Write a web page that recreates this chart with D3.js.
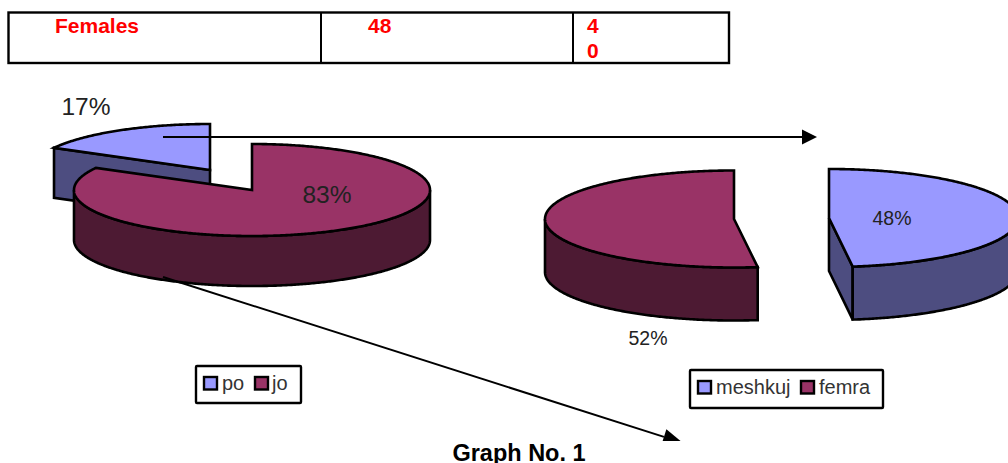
<!DOCTYPE html>
<html><head><meta charset="utf-8">
<script src="https://cdnjs.cloudflare.com/ajax/libs/d3/7.9.0/d3.min.js"></script>
<style>html,body{margin:0;padding:0;background:#fff}svg{display:block}text{font-family:"Liberation Sans",Arial,sans-serif}</style>
</head><body><svg id="c" width="1008" height="463"></svg>
<script>
// data
const leftCategories = ["po", "jo"];
const leftValues = [17, 83];
const rightCategories = ["meshkuj", "femra"];
const rightValues = [48, 52];
const tableCells = [["Females"], ["48"], ["4", "0"]];
const caption = "Graph No. 1";
// colours
const top1 = "#9999ff", side1 = "#4d4d80", top2 = "#993366", side2 = "#4d1a33";

const svg = d3.select("#c");
const TAU = Math.PI * 2;
const line = d3.line();
const SW = 2.6;

svg.append("clipPath").attr("id", "arrowClip").append("rect").attr("x", 0).attr("y", 0).attr("width", 1008).attr("height", 441);

function pt(g, a, dy = 0) { return [g.cx + g.rx * Math.sin(a), g.cy - g.ry * Math.cos(a) + dy]; }
function arcPts(g, a0, a1, dy = 0) {
  const n = Math.max(2, Math.ceil(Math.abs(a1 - a0) / 0.01));
  return d3.range(n + 1).map(i => pt(g, a0 + (a1 - a0) * i / n, dy));
}
function drawSlice(g, s, fillTop, fillSide, cutFace) {
  const layer = svg.append("g").attr("stroke", "#000").attr("stroke-width", SW).attr("stroke-linejoin", "miter");
  const lo = Math.max(s.startAngle, Math.PI / 2), hi = Math.min(s.endAngle, Math.PI * 1.5);
  if (cutFace) {
    const tip = pt(g, cutFace.angle), apex = [g.cx, g.cy];
    layer.append("path").attr("fill", fillSide).attr("d", line([apex, tip, [tip[0], tip[1] + g.depth], [apex[0], apex[1] + g.depth]]) + "Z");
  }
  if (hi > lo) {
    const wall = arcPts(g, lo, hi).concat(arcPts(g, hi, lo, g.depth));
    layer.append("path").attr("fill", fillSide).attr("d", line(wall) + "Z");
  }
  const face = [[g.cx, g.cy]].concat(arcPts(g, s.startAngle, s.endAngle));
  layer.append("path").attr("fill", fillTop).attr("d", line(face) + "Z");
}

// left pie
const pieL = d3.pie().sort(null).startAngle(-leftValues[0] / 100 * TAU).endAngle(TAU - leftValues[0] / 100 * TAU)(leftValues);
const gBig = { cx: 252, cy: 190, rx: 178, ry: 46, depth: 50 };
const gSmall = { cx: 210, cy: 170, rx: 178, ry: 46, depth: 50 };
(function () {
  const s = pieL[0];
  const layer = svg.append("g").attr("stroke", "#000").attr("stroke-width", SW);
  const tip = pt(gSmall, s.startAngle), apex = [gSmall.cx, gSmall.cy];
  layer.append("path").attr("fill", side1).attr("d", line([apex, tip, [tip[0], tip[1] + gSmall.depth], [apex[0], apex[1] + gSmall.depth]]) + "Z");
  layer.append("path").attr("fill", top1).attr("d", line([apex].concat(arcPts(gSmall, s.startAngle, s.endAngle))) + "Z");
})();
drawSlice(gBig, pieL[1], top2, side2);

// right pie
const pieR = d3.pie().sort(null)(rightValues);
const gR1 = { cx: 829, cy: 218, rx: 189, ry: 49, depth: 53 };
const gR2 = { cx: 734, cy: 219, rx: 189, ry: 48.5, depth: 53 };
drawSlice(gR2, pieR[1], top2, side2);
drawSlice(gR1, pieR[0], top1, side1, { angle: pieR[0].endAngle });

// percent labels
const pct = (x, y, size, v) => svg.append("text").attr("x", x).attr("y", y).attr("font-size", size).attr("fill", "#222").attr("text-anchor", "middle").text(v + "%");
pct(86, 115, 24.5, leftValues[0]);
pct(327, 203, 24.5, leftValues[1]);
pct(892, 225, 19.5, rightValues[0]);
pct(648, 345, 19.5, rightValues[1]);

// arrows
function arrow(x0, y0, x1, y1, hl, hw, clip) {
  const a = Math.atan2(y1 - y0, x1 - x0), c = Math.cos(a), s = Math.sin(a);
  const bx = x1 - hl * c, by = y1 - hl * s;
  const g = svg.append("g");
  if (clip) g.attr("clip-path", "url(#arrowClip)");
  g.append("line").attr("x1", x0).attr("y1", y0).attr("x2", bx).attr("y2", by).attr("stroke", "#000").attr("stroke-width", 2);
  g.append("path").attr("fill", "#000").attr("d", line([[x1, y1], [bx - hw * s, by + hw * c], [bx + hw * s, by - hw * c]]) + "Z");
}
arrow(163, 137, 817, 137, 15, 7.5);
arrow(163, 277, 683, 443, 20, 8, true);

// legends
function legend(bx, by, bw, bh, items, colors) {
  svg.append("rect").attr("x", bx).attr("y", by).attr("width", bw).attr("height", bh).attr("rx", 1).attr("fill", "#fff").attr("stroke", "#000").attr("stroke-width", 2.4);
  items.forEach((t, i) => {
    svg.append("rect").attr("x", t.sx).attr("y", by + 11).attr("width", 13).attr("height", 12.5).attr("fill", colors[i]).attr("stroke", "#000").attr("stroke-width", 2.4);
    svg.append("text").attr("x", t.tx).attr("y", by + 24).attr("font-size", 20).attr("fill", "#333").text(t.name);
  });
}
legend(196, 366, 105, 37, [{ name: leftCategories[0], sx: 204, tx: 222 }, { name: leftCategories[1], sx: 255, tx: 272 }], [top1, top2]);
legend(690, 370, 193, 38, [{ name: rightCategories[0], sx: 698, tx: 716 }, { name: rightCategories[1], sx: 801, tx: 819 }], [top1, top2]);

// table
const tX = [8.5, 321, 573, 729];
svg.append("rect").attr("x", tX[0]).attr("y", 12.5).attr("width", tX[3] - tX[0]).attr("height", 50.5).attr("fill", "none").attr("stroke", "#000").attr("stroke-width", 2.4);
[tX[1], tX[2]].forEach(x => svg.append("line").attr("x1", x).attr("x2", x).attr("y1", 12).attr("y2", 63).attr("stroke", "#000").attr("stroke-width", 2));
const tTextX = [55, 368, 587];
tableCells.forEach((lines, i) => lines.forEach((t, j) => svg.append("text").attr("x", tTextX[i]).attr("y", 33 + j * 25).attr("font-size", 21).attr("font-weight", "bold").attr("fill", "#f00").text(t)));

svg.append("text").attr("x", 519).attr("y", 461).attr("text-anchor", "middle").attr("font-size", 23.5).attr("font-weight", "bold").attr("fill", "#000").text(caption);
</script></body></html>
